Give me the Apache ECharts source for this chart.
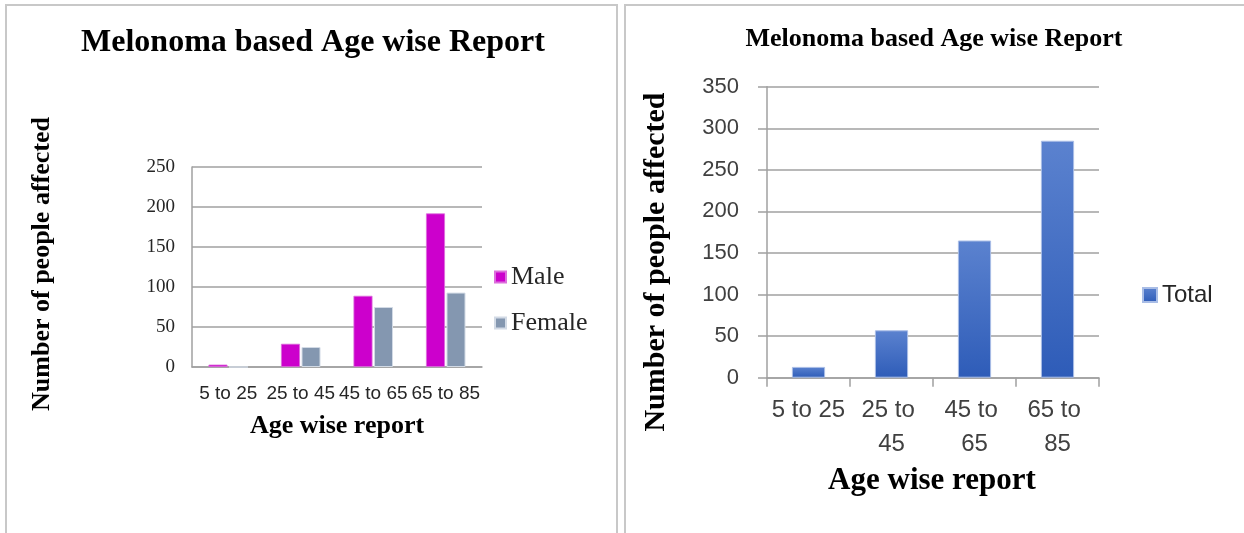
<!DOCTYPE html>
<html>
<head>
<meta charset="utf-8">
<script src="https://cdn.jsdelivr.net/npm/echarts@6/dist/echarts.min.js"></script>
<style>
  html, body { margin: 0; padding: 0; background: #ffffff; }
  #chart { width: 1244px; height: 533px; }
</style>
</head>
<body>
<div id="chart"></div>
<script>
// Age groups shared by both panels
const ageGroups = ['5 to 25', '25 to 45', '45 to 65', '65 to 85'];

// Left panel: people affected by gender
const maleCounts = [3, 29, 89, 192];
const femaleCounts = [0, 25, 75, 93];

// Right panel: people affected in total
const totalCounts = [13, 57, 165, 285];

// Value-axis tick labels
const genderTicks = [0, 50, 100, 150, 200, 250];
const totalTicks = [0, 50, 100, 150, 200, 250, 300, 350];

const chartTitle = 'Melonoma based Age wise Report';
const yTitle = 'Number of people affected';
const xTitle = 'Age wise report';

const SERIF = '"Liberation Serif", "Times New Roman", serif';
const SANS = '"Liberation Sans", Arial, sans-serif';
const GRID_GRAY = '#a0a0a0';

const chart = echarts.init(document.getElementById('chart'));

function textEl(text, x, y, font, rotation) {
  return {
    type: 'text',
    x: x, y: y,
    rotation: rotation || 0,
    silent: true,
    style: {
      text: text,
      font: font,
      fill: '#000000',
      textAlign: 'center',
      textVerticalAlign: 'middle',
      align: 'center',
      verticalAlign: 'middle'
    }
  };
}

chart.setOption({
  animation: false,
  backgroundColor: '#ffffff',
  grid: [
    { left: 192, top: 167, width: 290, height: 200, containLabel: false },
    { left: 767, top: 86.7, width: 332, height: 291, containLabel: false }
  ],
  xAxis: [
    {
      type: 'category', gridIndex: 0, data: ageGroups,
      axisLine: { lineStyle: { color: GRID_GRAY, width: 1.5 } },
      axisTick: { show: false },
      axisLabel: {
        interval: 0, hideOverlap: false, margin: 17,
        fontFamily: SANS, fontSize: 19, color: '#262626'
      }
    },
    {
      type: 'category', gridIndex: 1, data: ageGroups,
      axisLine: { lineStyle: { color: GRID_GRAY, width: 1.5 } },
      axisTick: { show: true, length: 9, lineStyle: { color: GRID_GRAY, width: 1.5 } },
      axisLabel: {
        interval: 0, hideOverlap: false, margin: 16,
        width: 80, overflow: 'break', lineHeight: 34,
        fontFamily: SANS, fontSize: 24, color: '#404040'
      }
    }
  ],
  yAxis: [
    {
      type: 'value', gridIndex: 0,
      min: genderTicks[0], max: genderTicks[genderTicks.length - 1],
      interval: genderTicks[1] - genderTicks[0],
      axisLine: { show: true, lineStyle: { color: GRID_GRAY, width: 1.5 } },
      axisTick: { show: false },
      splitLine: { lineStyle: { color: GRID_GRAY, width: 1.5 } },
      axisLabel: { margin: 17, fontFamily: SERIF, fontSize: 19, color: '#262626' }
    },
    {
      type: 'value', gridIndex: 1,
      min: totalTicks[0], max: totalTicks[totalTicks.length - 1],
      interval: totalTicks[1] - totalTicks[0],
      axisLine: { show: true, lineStyle: { color: GRID_GRAY, width: 1.5 } },
      axisTick: { show: true, length: 9, lineStyle: { color: GRID_GRAY, width: 1.5 } },
      splitLine: { lineStyle: { color: GRID_GRAY, width: 1.5 } },
      axisLabel: { margin: 28, fontFamily: SANS, fontSize: 22, color: '#404040' }
    }
  ],
  legend: [
    {
      data: ['Male', 'Female'], orient: 'vertical',
      left: 494, top: 264, padding: 0,
      icon: 'rect', itemWidth: 11, itemHeight: 11, itemGap: 20,
      textStyle: { fontFamily: SERIF, fontSize: 26, lineHeight: 26, color: '#262626' }
    },
    {
      data: ['Total'], orient: 'vertical',
      left: 1142, top: 283, padding: 0,
      icon: 'rect', itemWidth: 14, itemHeight: 14,
      textStyle: { fontFamily: SANS, fontSize: 24, lineHeight: 24, color: '#262626' }
    }
  ],
  series: [
    {
      name: 'Male', type: 'bar', xAxisIndex: 0, yAxisIndex: 0,
      data: maleCounts, barWidth: 19, barGap: '8%',
      itemStyle: { color: '#cc00cc', borderColor: '#dc6fdc', borderWidth: 0.8 }
    },
    {
      name: 'Female', type: 'bar', xAxisIndex: 0, yAxisIndex: 0,
      data: femaleCounts, barWidth: 19, barGap: '8%',
      itemStyle: { color: '#8497b0', borderColor: '#d2dae5', borderWidth: 1 }
    },
    {
      name: 'Total', type: 'bar', xAxisIndex: 1, yAxisIndex: 1,
      data: totalCounts, barWidth: '40%',
      itemStyle: {
        color: new echarts.graphic.LinearGradient(0, 0, 0, 1, [
          { offset: 0, color: '#5b82cf' },
          { offset: 1, color: '#2e5cb8' }
        ]),
        borderColor: '#a9bde6', borderWidth: 1
      }
    }
  ],
  graphic: [
    // panel frames
    { type: 'rect', silent: true, shape: { x: 6, y: 5, width: 611, height: 600 },
      style: { fill: 'none', stroke: '#c8c8c8', lineWidth: 2 } },
    { type: 'rect', silent: true, shape: { x: 625, y: 5, width: 640, height: 600 },
      style: { fill: 'none', stroke: '#c8c8c8', lineWidth: 2 } },
    // left panel texts
    textEl(chartTitle, 313, 43, 'bold 32px ' + SERIF),
    textEl(yTitle, 42, 264, 'bold 26px ' + SERIF, Math.PI / 2),
    textEl(xTitle, 337, 426, 'bold 26px ' + SERIF),
    // right panel texts
    textEl(chartTitle, 934, 39, 'bold 26px ' + SERIF),
    textEl(yTitle, 656, 262, 'bold 30px ' + SERIF, Math.PI / 2),
    textEl(xTitle, 932, 481, 'bold 31px ' + SERIF)
  ]
});
</script>
</body>
</html>
